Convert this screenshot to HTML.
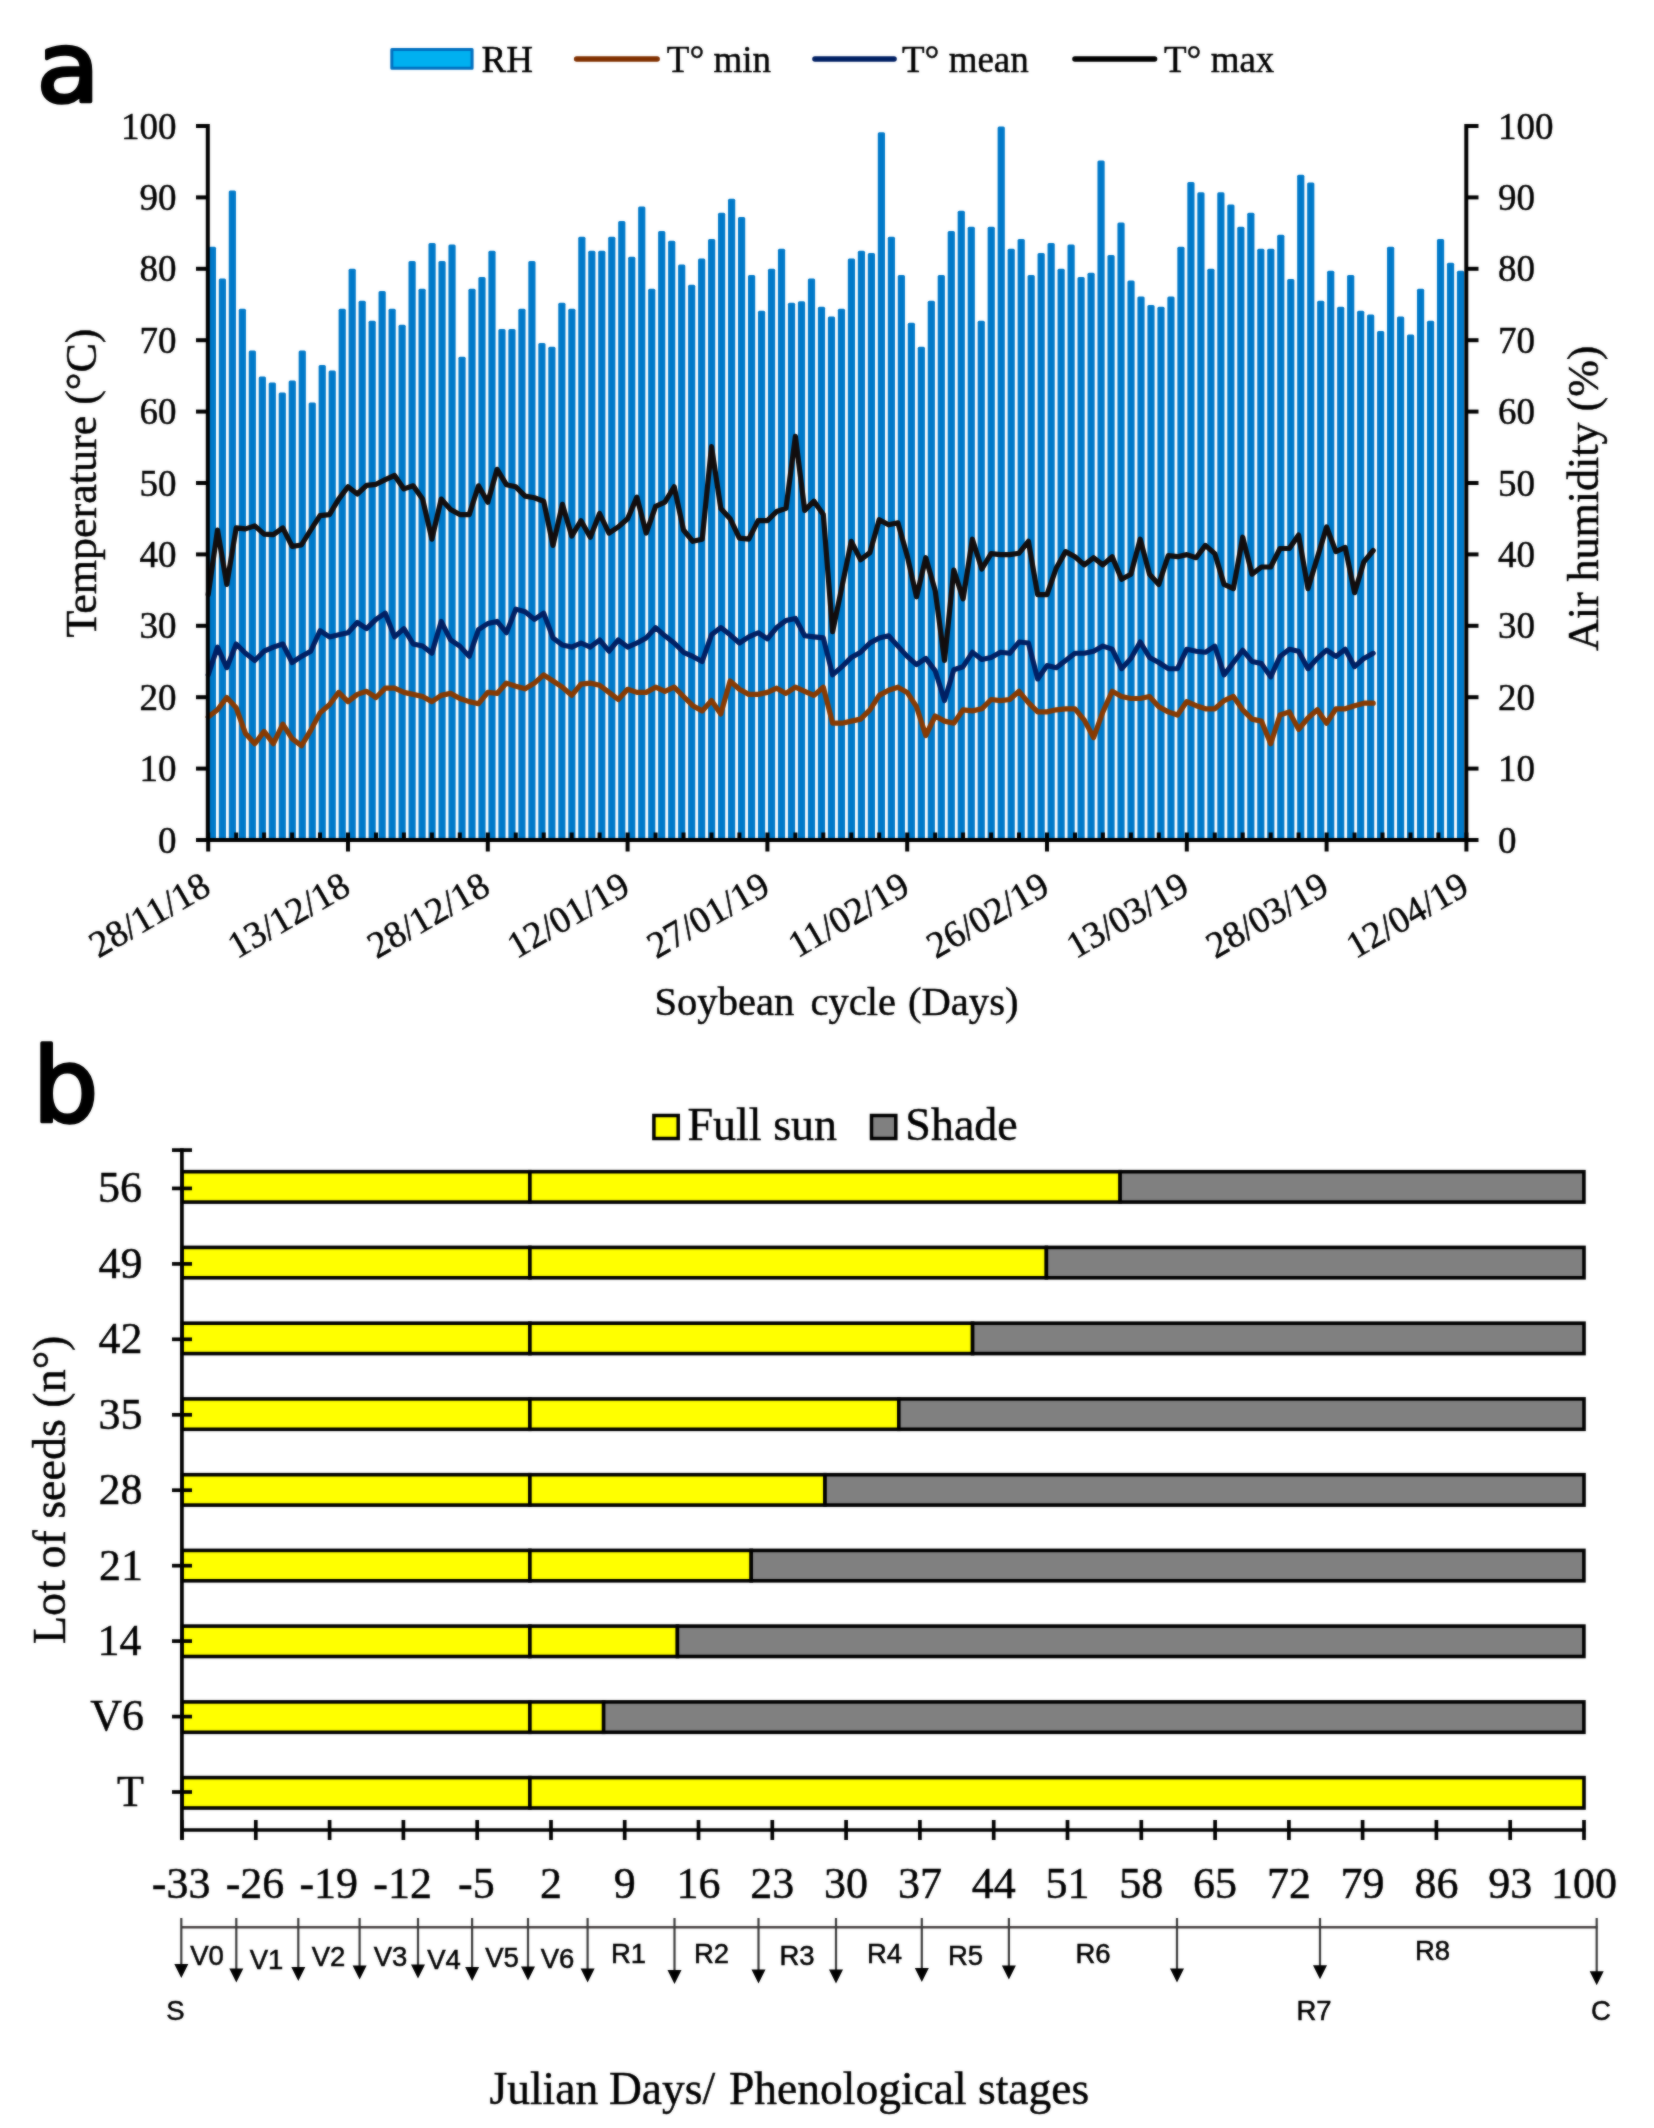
<!DOCTYPE html>
<html lang="en"><head><meta charset="utf-8"><title>Soybean cycle figure</title>
<style>html,body{margin:0;padding:0;background:#fff}svg{display:block}.s{font-family:"Liberation Serif","DejaVu Serif",serif;fill:#000;stroke:#000;stroke-width:.45px}.a{font-family:"Liberation Sans","DejaVu Sans",sans-serif;fill:#000}</style></head><body>
<svg width="1654" height="2128" viewBox="0 0 1654 2128">
<defs><filter id="soft" filterUnits="userSpaceOnUse" x="0" y="0" width="1654" height="2128" color-interpolation-filters="sRGB"><feGaussianBlur stdDeviation="0.8" result="b"/><feComposite in="SourceGraphic" in2="b" operator="arithmetic" k1="0" k2="0.5" k3="0.5" k4="0"/></filter></defs>
<g filter="url(#soft)">
<rect width="1654" height="2128" fill="#fff"/>
<g id="bars" fill="#0079c9">
<rect x="208.80" y="246.7" width="7.2" height="593.3" rx="1.5"/>
<rect x="218.79" y="278.6" width="7.2" height="561.4" rx="1.5"/>
<rect x="228.77" y="190.6" width="7.2" height="649.4" rx="1.5"/>
<rect x="238.75" y="308.8" width="7.2" height="531.2" rx="1.5"/>
<rect x="248.74" y="350.5" width="7.2" height="489.5" rx="1.5"/>
<rect x="258.73" y="376.6" width="7.2" height="463.4" rx="1.5"/>
<rect x="268.71" y="382.6" width="7.2" height="457.4" rx="1.5"/>
<rect x="278.69" y="392.6" width="7.2" height="447.4" rx="1.5"/>
<rect x="288.68" y="380.5" width="7.2" height="459.5" rx="1.5"/>
<rect x="298.67" y="350.5" width="7.2" height="489.5" rx="1.5"/>
<rect x="308.65" y="402.5" width="7.2" height="437.5" rx="1.5"/>
<rect x="318.63" y="364.9" width="7.2" height="475.1" rx="1.5"/>
<rect x="328.62" y="370.6" width="7.2" height="469.4" rx="1.5"/>
<rect x="338.61" y="308.8" width="7.2" height="531.2" rx="1.5"/>
<rect x="348.59" y="268.7" width="7.2" height="571.3" rx="1.5"/>
<rect x="358.57" y="300.8" width="7.2" height="539.2" rx="1.5"/>
<rect x="368.56" y="320.7" width="7.2" height="519.3" rx="1.5"/>
<rect x="378.55" y="290.9" width="7.2" height="549.1" rx="1.5"/>
<rect x="388.53" y="308.8" width="7.2" height="531.2" rx="1.5"/>
<rect x="398.51" y="324.8" width="7.2" height="515.2" rx="1.5"/>
<rect x="408.50" y="261.1" width="7.2" height="578.9" rx="1.5"/>
<rect x="418.49" y="288.8" width="7.2" height="551.2" rx="1.5"/>
<rect x="428.47" y="243.0" width="7.2" height="597.0" rx="1.5"/>
<rect x="438.45" y="261.1" width="7.2" height="578.9" rx="1.5"/>
<rect x="448.44" y="244.6" width="7.2" height="595.4" rx="1.5"/>
<rect x="458.43" y="356.7" width="7.2" height="483.3" rx="1.5"/>
<rect x="468.41" y="288.8" width="7.2" height="551.2" rx="1.5"/>
<rect x="478.39" y="276.9" width="7.2" height="563.1" rx="1.5"/>
<rect x="488.38" y="250.8" width="7.2" height="589.2" rx="1.5"/>
<rect x="498.37" y="328.9" width="7.2" height="511.1" rx="1.5"/>
<rect x="508.35" y="328.9" width="7.2" height="511.1" rx="1.5"/>
<rect x="518.34" y="308.8" width="7.2" height="531.2" rx="1.5"/>
<rect x="528.32" y="261.1" width="7.2" height="578.9" rx="1.5"/>
<rect x="538.31" y="342.9" width="7.2" height="497.1" rx="1.5"/>
<rect x="548.29" y="346.8" width="7.2" height="493.2" rx="1.5"/>
<rect x="558.27" y="302.8" width="7.2" height="537.2" rx="1.5"/>
<rect x="568.26" y="308.8" width="7.2" height="531.2" rx="1.5"/>
<rect x="578.25" y="236.8" width="7.2" height="603.2" rx="1.5"/>
<rect x="588.23" y="250.8" width="7.2" height="589.2" rx="1.5"/>
<rect x="598.21" y="250.8" width="7.2" height="589.2" rx="1.5"/>
<rect x="608.20" y="236.8" width="7.2" height="603.2" rx="1.5"/>
<rect x="618.18" y="221.0" width="7.2" height="619.0" rx="1.5"/>
<rect x="628.17" y="256.8" width="7.2" height="583.2" rx="1.5"/>
<rect x="638.15" y="206.6" width="7.2" height="633.4" rx="1.5"/>
<rect x="648.14" y="288.8" width="7.2" height="551.2" rx="1.5"/>
<rect x="658.12" y="230.9" width="7.2" height="609.1" rx="1.5"/>
<rect x="668.11" y="240.7" width="7.2" height="599.3" rx="1.5"/>
<rect x="678.10" y="264.6" width="7.2" height="575.4" rx="1.5"/>
<rect x="688.08" y="284.7" width="7.2" height="555.3" rx="1.5"/>
<rect x="698.07" y="258.6" width="7.2" height="581.4" rx="1.5"/>
<rect x="708.05" y="238.9" width="7.2" height="601.1" rx="1.5"/>
<rect x="718.03" y="212.8" width="7.2" height="627.2" rx="1.5"/>
<rect x="728.02" y="198.8" width="7.2" height="641.2" rx="1.5"/>
<rect x="738.00" y="216.9" width="7.2" height="623.1" rx="1.5"/>
<rect x="747.99" y="274.9" width="7.2" height="565.1" rx="1.5"/>
<rect x="757.97" y="310.8" width="7.2" height="529.2" rx="1.5"/>
<rect x="767.96" y="268.7" width="7.2" height="571.3" rx="1.5"/>
<rect x="777.94" y="248.7" width="7.2" height="591.3" rx="1.5"/>
<rect x="787.93" y="302.8" width="7.2" height="537.2" rx="1.5"/>
<rect x="797.91" y="301.2" width="7.2" height="538.8" rx="1.5"/>
<rect x="807.90" y="278.6" width="7.2" height="561.4" rx="1.5"/>
<rect x="817.88" y="306.7" width="7.2" height="533.3" rx="1.5"/>
<rect x="827.87" y="316.6" width="7.2" height="523.4" rx="1.5"/>
<rect x="837.86" y="308.8" width="7.2" height="531.2" rx="1.5"/>
<rect x="847.84" y="258.6" width="7.2" height="581.4" rx="1.5"/>
<rect x="857.83" y="250.8" width="7.2" height="589.2" rx="1.5"/>
<rect x="867.81" y="252.9" width="7.2" height="587.1" rx="1.5"/>
<rect x="877.80" y="132.2" width="7.2" height="707.8" rx="1.5"/>
<rect x="887.78" y="236.8" width="7.2" height="603.2" rx="1.5"/>
<rect x="897.76" y="274.9" width="7.2" height="565.1" rx="1.5"/>
<rect x="907.75" y="322.7" width="7.2" height="517.3" rx="1.5"/>
<rect x="917.73" y="346.8" width="7.2" height="493.2" rx="1.5"/>
<rect x="927.72" y="300.8" width="7.2" height="539.2" rx="1.5"/>
<rect x="937.70" y="274.9" width="7.2" height="565.1" rx="1.5"/>
<rect x="947.69" y="230.9" width="7.2" height="609.1" rx="1.5"/>
<rect x="957.67" y="210.7" width="7.2" height="629.3" rx="1.5"/>
<rect x="967.66" y="226.8" width="7.2" height="613.2" rx="1.5"/>
<rect x="977.64" y="320.7" width="7.2" height="519.3" rx="1.5"/>
<rect x="987.63" y="226.8" width="7.2" height="613.2" rx="1.5"/>
<rect x="997.62" y="126.4" width="7.2" height="713.6" rx="1.5"/>
<rect x="1007.60" y="248.7" width="7.2" height="591.3" rx="1.5"/>
<rect x="1017.59" y="238.9" width="7.2" height="601.1" rx="1.5"/>
<rect x="1027.57" y="274.9" width="7.2" height="565.1" rx="1.5"/>
<rect x="1037.56" y="252.9" width="7.2" height="587.1" rx="1.5"/>
<rect x="1047.54" y="243.0" width="7.2" height="597.0" rx="1.5"/>
<rect x="1057.52" y="268.7" width="7.2" height="571.3" rx="1.5"/>
<rect x="1067.51" y="244.6" width="7.2" height="595.4" rx="1.5"/>
<rect x="1077.49" y="276.9" width="7.2" height="563.1" rx="1.5"/>
<rect x="1087.48" y="272.8" width="7.2" height="567.2" rx="1.5"/>
<rect x="1097.46" y="160.4" width="7.2" height="679.6" rx="1.5"/>
<rect x="1107.45" y="254.9" width="7.2" height="585.1" rx="1.5"/>
<rect x="1117.43" y="222.6" width="7.2" height="617.4" rx="1.5"/>
<rect x="1127.42" y="280.6" width="7.2" height="559.4" rx="1.5"/>
<rect x="1137.40" y="296.6" width="7.2" height="543.4" rx="1.5"/>
<rect x="1147.39" y="304.9" width="7.2" height="535.1" rx="1.5"/>
<rect x="1157.38" y="306.7" width="7.2" height="533.3" rx="1.5"/>
<rect x="1167.36" y="296.6" width="7.2" height="543.4" rx="1.5"/>
<rect x="1177.35" y="246.7" width="7.2" height="593.3" rx="1.5"/>
<rect x="1187.33" y="181.9" width="7.2" height="658.1" rx="1.5"/>
<rect x="1197.32" y="192.2" width="7.2" height="647.8" rx="1.5"/>
<rect x="1207.30" y="268.7" width="7.2" height="571.3" rx="1.5"/>
<rect x="1217.28" y="192.2" width="7.2" height="647.8" rx="1.5"/>
<rect x="1227.27" y="204.6" width="7.2" height="635.4" rx="1.5"/>
<rect x="1237.25" y="226.8" width="7.2" height="613.2" rx="1.5"/>
<rect x="1247.24" y="212.8" width="7.2" height="627.2" rx="1.5"/>
<rect x="1257.22" y="248.7" width="7.2" height="591.3" rx="1.5"/>
<rect x="1267.21" y="248.7" width="7.2" height="591.3" rx="1.5"/>
<rect x="1277.19" y="234.8" width="7.2" height="605.2" rx="1.5"/>
<rect x="1287.18" y="279.0" width="7.2" height="561.0" rx="1.5"/>
<rect x="1297.16" y="174.7" width="7.2" height="665.3" rx="1.5"/>
<rect x="1307.15" y="182.4" width="7.2" height="657.6" rx="1.5"/>
<rect x="1317.13" y="300.8" width="7.2" height="539.2" rx="1.5"/>
<rect x="1327.12" y="270.7" width="7.2" height="569.3" rx="1.5"/>
<rect x="1337.10" y="306.7" width="7.2" height="533.3" rx="1.5"/>
<rect x="1347.09" y="274.9" width="7.2" height="565.1" rx="1.5"/>
<rect x="1357.07" y="310.8" width="7.2" height="529.2" rx="1.5"/>
<rect x="1367.06" y="314.5" width="7.2" height="525.5" rx="1.5"/>
<rect x="1377.04" y="331.0" width="7.2" height="509.0" rx="1.5"/>
<rect x="1387.03" y="246.7" width="7.2" height="593.3" rx="1.5"/>
<rect x="1397.01" y="316.6" width="7.2" height="523.4" rx="1.5"/>
<rect x="1407.00" y="334.5" width="7.2" height="505.5" rx="1.5"/>
<rect x="1416.98" y="288.8" width="7.2" height="551.2" rx="1.5"/>
<rect x="1426.97" y="320.7" width="7.2" height="519.3" rx="1.5"/>
<rect x="1436.95" y="238.9" width="7.2" height="601.1" rx="1.5"/>
<rect x="1446.94" y="262.7" width="7.2" height="577.3" rx="1.5"/>
<rect x="1456.92" y="270.7" width="7.2" height="569.3" rx="1.5"/>
</g>
<g fill="none" stroke-linejoin="round" stroke-linecap="round">
<polyline stroke="#873a02" stroke-width="5.2" points="208.2,717.0 217.5,709.8 226.8,697.5 236.2,707.8 245.5,733.5 254.8,743.7 264.1,731.4 273.4,743.7 282.8,724.2 292.1,738.6 301.4,745.8 310.7,730.4 320.0,712.9 329.4,704.7 338.7,692.4 348.0,701.6 357.3,694.4 366.6,691.3 376.0,697.5 385.3,688.2 394.6,688.2 403.9,692.4 413.2,694.4 422.6,696.5 431.9,701.6 441.2,695.4 450.5,693.4 459.8,698.5 469.2,701.6 478.5,703.7 487.8,692.4 497.1,693.4 506.4,683.1 515.8,686.2 525.1,688.8 534.4,683.1 543.7,674.9 553.0,681.0 562.4,687.2 571.7,695.4 581.0,684.1 590.3,683.1 599.6,685.2 609.0,692.4 618.3,699.5 627.6,689.3 636.9,692.4 646.2,692.4 655.6,687.2 664.9,691.3 674.2,687.2 683.5,696.5 692.8,705.7 702.2,710.9 711.5,700.6 720.8,713.9 730.1,681.0 739.4,689.3 748.8,694.4 758.1,694.4 767.4,692.4 776.7,688.2 786.0,693.4 795.4,687.2 804.7,691.3 814.0,695.4 823.3,687.2 832.6,723.2 842.0,723.2 851.3,721.1 860.6,719.1 869.9,709.8 879.2,695.4 888.6,690.3 897.9,687.2 907.2,692.4 916.5,706.7 925.8,735.5 935.2,716.0 944.5,721.1 953.8,723.2 963.1,709.8 972.4,710.9 981.8,708.8 991.1,699.5 1000.4,700.6 1009.7,699.5 1019.0,691.3 1028.4,702.6 1037.7,711.9 1047.0,711.9 1056.3,709.8 1065.6,708.8 1075.0,708.8 1084.3,720.1 1093.6,737.6 1102.9,711.9 1112.2,691.3 1121.6,696.5 1130.9,698.5 1140.2,698.5 1149.5,696.5 1158.8,706.7 1168.2,711.9 1177.5,715.0 1186.8,701.6 1196.1,705.7 1205.4,708.8 1214.8,708.8 1224.1,700.6 1233.4,696.5 1242.7,709.8 1252.0,719.1 1261.4,721.1 1270.7,743.7 1280.0,715.0 1289.3,711.9 1298.6,729.4 1308.0,718.0 1317.3,709.8 1326.6,723.2 1335.9,708.8 1345.2,708.8 1354.6,705.7 1363.9,703.2 1373.2,703.2"/>
<polyline stroke="#001f63" stroke-width="5.1" points="208.2,674.9 217.5,647.1 226.8,667.7 236.2,644.0 245.5,653.3 254.8,660.5 264.1,651.2 273.4,647.1 282.8,644.0 292.1,662.5 301.4,656.4 310.7,651.2 320.0,630.7 329.4,636.9 338.7,634.8 348.0,632.7 357.3,622.5 366.6,628.6 376.0,619.4 385.3,613.2 394.6,636.9 403.9,628.6 413.2,644.0 422.6,646.1 431.9,653.3 441.2,621.4 450.5,639.9 459.8,646.1 469.2,656.4 478.5,629.7 487.8,623.5 497.1,621.4 506.4,632.7 515.8,609.1 525.1,611.7 534.4,619.4 543.7,613.2 553.0,637.9 562.4,645.1 571.7,647.1 581.0,643.0 590.3,647.1 599.6,639.9 609.0,651.2 618.3,639.9 627.6,647.1 636.9,643.0 646.2,637.9 655.6,627.6 664.9,635.8 674.2,643.0 683.5,652.3 692.8,656.4 702.2,661.5 711.5,634.8 720.8,627.6 730.1,634.8 739.4,643.0 748.8,636.9 758.1,632.7 767.4,638.9 776.7,627.6 786.0,620.4 795.4,618.4 804.7,635.8 814.0,636.9 823.3,637.9 832.6,674.9 842.0,666.7 851.3,657.4 860.6,652.3 869.9,643.0 879.2,637.9 888.6,635.8 897.9,646.1 907.2,656.4 916.5,664.6 925.8,658.4 935.2,670.8 944.5,700.6 953.8,669.7 963.1,666.7 972.4,652.3 981.8,659.5 991.1,657.4 1000.4,652.3 1009.7,653.3 1019.0,642.0 1028.4,643.0 1037.7,679.0 1047.0,665.6 1056.3,667.7 1065.6,660.5 1075.0,653.3 1084.3,653.3 1093.6,651.2 1102.9,646.1 1112.2,649.2 1121.6,668.7 1130.9,658.4 1140.2,642.0 1149.5,657.4 1158.8,662.5 1168.2,668.7 1177.5,668.7 1186.8,649.2 1196.1,651.2 1205.4,652.3 1214.8,646.1 1224.1,674.9 1233.4,662.5 1242.7,650.2 1252.0,661.5 1261.4,663.6 1270.7,676.9 1280.0,656.4 1289.3,649.2 1298.6,651.2 1308.0,668.7 1317.3,658.4 1326.6,650.2 1335.9,656.4 1345.2,649.2 1354.6,666.7 1363.9,658.4 1373.2,653.3"/>
<polyline stroke="#120d0d" stroke-width="5.2" points="208.2,594.7 217.5,530.0 226.8,584.4 236.2,527.9 245.5,528.9 254.8,525.9 264.1,534.1 273.4,534.7 282.8,527.9 292.1,546.4 301.4,545.0 310.7,530.0 320.0,515.6 329.4,514.6 338.7,499.1 348.0,486.8 357.3,494.0 366.6,485.4 376.0,484.3 385.3,479.6 394.6,475.5 403.9,488.9 413.2,485.8 422.6,499.1 431.9,539.2 441.2,499.1 450.5,509.4 459.8,514.6 469.2,514.6 478.5,485.8 487.8,502.2 497.1,469.3 506.4,484.7 515.8,486.8 525.1,496.1 534.4,497.7 543.7,501.2 553.0,545.4 562.4,504.3 571.7,536.1 581.0,520.7 590.3,537.2 599.6,513.5 609.0,533.1 618.3,526.9 627.6,518.7 636.9,497.1 646.2,533.1 655.6,506.3 664.9,502.2 674.2,486.8 683.5,530.0 692.8,541.3 702.2,539.2 711.5,446.7 720.8,508.4 730.1,518.7 739.4,538.2 748.8,539.2 758.1,520.7 767.4,520.7 776.7,511.5 786.0,508.4 795.4,436.4 804.7,510.4 814.0,501.2 823.3,514.6 832.6,631.7 842.0,586.5 851.3,541.3 860.6,559.8 869.9,552.6 879.2,519.7 888.6,524.8 897.9,522.8 907.2,555.7 916.5,596.8 925.8,557.7 935.2,590.6 944.5,660.5 953.8,570.1 963.1,598.8 972.4,539.2 981.8,569.0 991.1,553.6 1000.4,554.6 1009.7,554.6 1019.0,553.2 1028.4,541.3 1037.7,594.7 1047.0,594.7 1056.3,568.0 1065.6,551.6 1075.0,556.7 1084.3,564.9 1093.6,557.7 1102.9,564.9 1112.2,556.7 1121.6,579.3 1130.9,574.2 1140.2,539.2 1149.5,574.2 1158.8,584.4 1168.2,555.7 1177.5,556.7 1186.8,554.6 1196.1,557.7 1205.4,545.4 1214.8,553.6 1224.1,584.4 1233.4,588.6 1242.7,537.2 1252.0,574.2 1261.4,567.0 1270.7,567.0 1280.0,548.5 1289.3,548.5 1298.6,535.1 1308.0,588.6 1317.3,557.7 1326.6,526.9 1335.9,551.6 1345.2,547.4 1354.6,592.7 1363.9,561.8 1373.2,550.5"/>
</g>
<g stroke="#000" stroke-width="4" fill="none">
<path d="M207.8 124.1V840"/>
<path d="M1466.3 124.1V840"/>
<path d="M196 840H1468"/>
<path d="M1466 840.0H1478.5"/>
<path d="M196 768.6H208"/>
<path d="M1466 768.6H1478.5"/>
<path d="M196 697.2H208"/>
<path d="M1466 697.2H1478.5"/>
<path d="M196 625.8H208"/>
<path d="M1466 625.8H1478.5"/>
<path d="M196 554.4H208"/>
<path d="M1466 554.4H1478.5"/>
<path d="M196 483.0H208"/>
<path d="M1466 483.0H1478.5"/>
<path d="M196 411.6H208"/>
<path d="M1466 411.6H1478.5"/>
<path d="M196 340.2H208"/>
<path d="M1466 340.2H1478.5"/>
<path d="M196 268.8H208"/>
<path d="M1466 268.8H1478.5"/>
<path d="M196 197.4H208"/>
<path d="M1466 197.4H1478.5"/>
<path d="M196 126.0H208"/>
<path d="M1466 126.0H1478.5"/>
<path d="M208.2 832.5V851.5"/>
<path d="M236.2 832.5V840"/>
<path d="M264.1 832.5V840"/>
<path d="M292.1 832.5V840"/>
<path d="M320.0 832.5V840"/>
<path d="M348.0 832.5V851.5"/>
<path d="M376.0 832.5V840"/>
<path d="M403.9 832.5V840"/>
<path d="M431.9 832.5V840"/>
<path d="M459.8 832.5V840"/>
<path d="M487.8 832.5V851.5"/>
<path d="M515.8 832.5V840"/>
<path d="M543.7 832.5V840"/>
<path d="M571.7 832.5V840"/>
<path d="M599.6 832.5V840"/>
<path d="M627.6 832.5V851.5"/>
<path d="M655.6 832.5V840"/>
<path d="M683.5 832.5V840"/>
<path d="M711.5 832.5V840"/>
<path d="M739.4 832.5V840"/>
<path d="M767.4 832.5V851.5"/>
<path d="M795.4 832.5V840"/>
<path d="M823.3 832.5V840"/>
<path d="M851.3 832.5V840"/>
<path d="M879.2 832.5V840"/>
<path d="M907.2 832.5V851.5"/>
<path d="M935.2 832.5V840"/>
<path d="M963.1 832.5V840"/>
<path d="M991.1 832.5V840"/>
<path d="M1019.0 832.5V840"/>
<path d="M1047.0 832.5V851.5"/>
<path d="M1075.0 832.5V840"/>
<path d="M1102.9 832.5V840"/>
<path d="M1130.9 832.5V840"/>
<path d="M1158.8 832.5V840"/>
<path d="M1186.8 832.5V851.5"/>
<path d="M1214.8 832.5V840"/>
<path d="M1242.7 832.5V840"/>
<path d="M1270.7 832.5V840"/>
<path d="M1298.6 832.5V840"/>
<path d="M1326.6 832.5V851.5"/>
<path d="M1354.6 832.5V840"/>
<path d="M1382.5 832.5V840"/>
<path d="M1410.5 832.5V840"/>
<path d="M1438.4 832.5V840"/>
<path d="M1466.4 832.5V851.5"/>
</g>
<g class="s" font-size="37">
<text x="176.5" y="852.5" text-anchor="end">0</text>
<text x="1498" y="852.5">0</text>
<text x="176.5" y="781.1" text-anchor="end">10</text>
<text x="1498" y="781.1">10</text>
<text x="176.5" y="709.7" text-anchor="end">20</text>
<text x="1498" y="709.7">20</text>
<text x="176.5" y="638.3" text-anchor="end">30</text>
<text x="1498" y="638.3">30</text>
<text x="176.5" y="566.9" text-anchor="end">40</text>
<text x="1498" y="566.9">40</text>
<text x="176.5" y="495.5" text-anchor="end">50</text>
<text x="1498" y="495.5">50</text>
<text x="176.5" y="424.1" text-anchor="end">60</text>
<text x="1498" y="424.1">60</text>
<text x="176.5" y="352.7" text-anchor="end">70</text>
<text x="1498" y="352.7">70</text>
<text x="176.5" y="281.3" text-anchor="end">80</text>
<text x="1498" y="281.3">80</text>
<text x="176.5" y="209.9" text-anchor="end">90</text>
<text x="1498" y="209.9">90</text>
<text x="176.5" y="138.5" text-anchor="end">100</text>
<text x="1498" y="138.5">100</text>
<text transform="translate(212.7 892.5) rotate(-30)" text-anchor="end" font-size="37.5">28/11/18</text>
<text transform="translate(352.5 892.5) rotate(-30)" text-anchor="end" font-size="37.5">13/12/18</text>
<text transform="translate(492.3 892.5) rotate(-30)" text-anchor="end" font-size="37.5">28/12/18</text>
<text transform="translate(632.1 892.5) rotate(-30)" text-anchor="end" font-size="37.5">12/01/19</text>
<text transform="translate(771.9 892.5) rotate(-30)" text-anchor="end" font-size="37.5">27/01/19</text>
<text transform="translate(911.7 892.5) rotate(-30)" text-anchor="end" font-size="37.5">11/02/19</text>
<text transform="translate(1051.5 892.5) rotate(-30)" text-anchor="end" font-size="37.5">26/02/19</text>
<text transform="translate(1191.3 892.5) rotate(-30)" text-anchor="end" font-size="37.5">13/03/19</text>
<text transform="translate(1331.1 892.5) rotate(-30)" text-anchor="end" font-size="37.5">28/03/19</text>
<text transform="translate(1470.9 892.5) rotate(-30)" text-anchor="end" font-size="37.5">12/04/19</text>
</g>
<rect x="391.8" y="49.5" width="80.3" height="18.7" fill="#00b0f0" stroke="#0070c0" stroke-width="3" stroke-linejoin="round"/>
<g stroke-linecap="round" stroke-width="5.6" fill="none">
<path stroke="#803000" d="M576.7 59H657.1"/>
<path stroke="#001f63" d="M815 59H894"/>
<path stroke="#000" d="M1075 59H1154.5"/>
</g>
<g class="s" font-size="37">
<text x="481.5" y="72">RH</text>
<text x="666.8" y="72">T° min</text>
<text x="902" y="72">T° mean</text>
<text x="1164" y="72">T° max</text>
</g>
<g class="s" font-size="44">
<text transform="translate(96.2 483) rotate(-90)" text-anchor="middle">Temperature (°C)</text>
<text transform="translate(1598 498.3) rotate(-90)" text-anchor="middle">Air humidity (%)</text>
<text y="1015" font-size="40.6"><tspan x="654.5">Soybean</tspan><tspan x="800.4"> cycle</tspan><tspan x="897.9"> (Days)</tspan></text>
</g>
<g font-family='"DejaVu Sans","Liberation Sans",sans-serif' fill="#000" stroke="#000" stroke-linejoin="round">
<text transform="translate(36.5 101.8) scale(1.055 1)" font-size="98" stroke-width="3.5">a</text>
<text x="32.5" y="1121.5" font-size="104" stroke-width="3.3">b</text>
</g>
<g stroke="#000" stroke-width="3.6">
<rect x="182.0" y="1171.7" width="347.9" height="30.4" fill="#ff0"/>
<rect x="529.9" y="1171.7" width="590.3" height="30.4" fill="#ff0"/>
<rect x="1120.1" y="1171.7" width="463.8" height="30.4" fill="#808080"/>
<rect x="182.0" y="1247.4" width="347.9" height="30.4" fill="#ff0"/>
<rect x="529.9" y="1247.4" width="516.5" height="30.4" fill="#ff0"/>
<rect x="1046.4" y="1247.4" width="537.6" height="30.4" fill="#808080"/>
<rect x="182.0" y="1323.2" width="347.9" height="30.4" fill="#ff0"/>
<rect x="529.9" y="1323.2" width="442.7" height="30.4" fill="#ff0"/>
<rect x="972.6" y="1323.2" width="611.4" height="30.4" fill="#808080"/>
<rect x="182.0" y="1398.9" width="347.9" height="30.4" fill="#ff0"/>
<rect x="529.9" y="1398.9" width="368.9" height="30.4" fill="#ff0"/>
<rect x="898.8" y="1398.9" width="685.2" height="30.4" fill="#808080"/>
<rect x="182.0" y="1474.7" width="347.9" height="30.4" fill="#ff0"/>
<rect x="529.9" y="1474.7" width="295.1" height="30.4" fill="#ff0"/>
<rect x="825.0" y="1474.7" width="759.0" height="30.4" fill="#808080"/>
<rect x="182.0" y="1550.4" width="347.9" height="30.4" fill="#ff0"/>
<rect x="529.9" y="1550.4" width="221.4" height="30.4" fill="#ff0"/>
<rect x="751.2" y="1550.4" width="832.7" height="30.4" fill="#808080"/>
<rect x="182.0" y="1626.1" width="347.9" height="30.4" fill="#ff0"/>
<rect x="529.9" y="1626.1" width="147.6" height="30.4" fill="#ff0"/>
<rect x="677.4" y="1626.1" width="906.5" height="30.4" fill="#808080"/>
<rect x="182.0" y="1701.9" width="347.9" height="30.4" fill="#ff0"/>
<rect x="529.9" y="1701.9" width="73.8" height="30.4" fill="#ff0"/>
<rect x="603.6" y="1701.9" width="980.3" height="30.4" fill="#808080"/>
<rect x="182.0" y="1777.6" width="347.9" height="30.4" fill="#ff0"/>
<rect x="529.9" y="1777.6" width="1054.1" height="30.4" fill="#ff0"/>
</g>
<g stroke="#000" stroke-width="3.7" fill="none">
<path d="M181.9 1148.3V1840"/>
<path d="M180.5 1830H1585.5"/>
<path d="M172 1150.1H192"/>
<path d="M172 1188.4H192"/>
<path d="M172 1263.9H192"/>
<path d="M172 1339.3H192"/>
<path d="M172 1414.8H192"/>
<path d="M172 1490.2H192"/>
<path d="M172 1565.7H192"/>
<path d="M172 1641.1H192"/>
<path d="M172 1716.6H192"/>
<path d="M172 1792.0H192"/>
<path d="M182.0 1820V1840"/>
<path d="M255.8 1820V1840"/>
<path d="M329.6 1820V1840"/>
<path d="M403.4 1820V1840"/>
<path d="M477.2 1820V1840"/>
<path d="M551.0 1820V1840"/>
<path d="M624.7 1820V1840"/>
<path d="M698.5 1820V1840"/>
<path d="M772.3 1820V1840"/>
<path d="M846.1 1820V1840"/>
<path d="M919.9 1820V1840"/>
<path d="M993.7 1820V1840"/>
<path d="M1067.5 1820V1840"/>
<path d="M1141.3 1820V1840"/>
<path d="M1215.1 1820V1840"/>
<path d="M1288.9 1820V1840"/>
<path d="M1362.6 1820V1840"/>
<path d="M1436.4 1820V1840"/>
<path d="M1510.2 1820V1840"/>
<path d="M1584.0 1820V1840"/>
</g>
<g class="s" font-size="44">
<text x="142.0" y="1202.2" text-anchor="end">56</text>
<text x="142.5" y="1277.7" text-anchor="end">49</text>
<text x="142.5" y="1353.1" text-anchor="end">42</text>
<text x="142.5" y="1428.5" text-anchor="end">35</text>
<text x="142.5" y="1504.0" text-anchor="end">28</text>
<text x="143.0" y="1579.5" text-anchor="end">21</text>
<text x="141.5" y="1654.9" text-anchor="end">14</text>
<text x="144.0" y="1730.4" text-anchor="end">V6</text>
<text x="143.8" y="1805.8" text-anchor="end">T</text>
<text x="181.2" y="1898" text-anchor="middle">-33</text>
<text x="255.0" y="1898" text-anchor="middle">-26</text>
<text x="328.8" y="1898" text-anchor="middle">-19</text>
<text x="402.6" y="1898" text-anchor="middle">-12</text>
<text x="476.4" y="1898" text-anchor="middle">-5</text>
<text x="551.0" y="1898" text-anchor="middle">2</text>
<text x="624.7" y="1898" text-anchor="middle">9</text>
<text x="698.5" y="1898" text-anchor="middle">16</text>
<text x="772.3" y="1898" text-anchor="middle">23</text>
<text x="846.1" y="1898" text-anchor="middle">30</text>
<text x="919.9" y="1898" text-anchor="middle">37</text>
<text x="993.7" y="1898" text-anchor="middle">44</text>
<text x="1067.5" y="1898" text-anchor="middle">51</text>
<text x="1141.3" y="1898" text-anchor="middle">58</text>
<text x="1215.1" y="1898" text-anchor="middle">65</text>
<text x="1288.9" y="1898" text-anchor="middle">72</text>
<text x="1362.6" y="1898" text-anchor="middle">79</text>
<text x="1436.4" y="1898" text-anchor="middle">86</text>
<text x="1510.2" y="1898" text-anchor="middle">93</text>
<text x="1584.0" y="1898" text-anchor="middle">100</text>
</g>
<rect x="653.9" y="1115.5" width="24.3" height="23" fill="#ff0" stroke="#000" stroke-width="3.5"/>
<rect x="871.5" y="1115.5" width="24.3" height="23" fill="#808080" stroke="#000" stroke-width="3.5"/>
<g class="s" font-size="46">
<text x="687.5" y="1139.8">Full sun</text>
<text x="905.3" y="1139.8">Shade</text>
<text transform="translate(64.6 1489.8) rotate(-90)" text-anchor="middle">Lot of seeds (n°)</text>
<text y="2104" font-size="45.5"><tspan x="489.5">Julian</tspan><tspan x="609">Days/</tspan><tspan x="729">Phenological</tspan><tspan x="978">stages</tspan></text>
</g>
<path d="M182 1927.2H1597.5" stroke="#4a4444" stroke-width="2.4" fill="none"/>
<path d="M181.3 1918V1970.0" stroke="#3a3a3a" stroke-width="2.2" fill="none"/>
<path d="M174.3 1964.0L188.3 1964.0L181.3 1978.0Z" fill="#000"/>
<path d="M236.3 1918V1974.6" stroke="#3a3a3a" stroke-width="2.2" fill="none"/>
<path d="M229.3 1968.6L243.3 1968.6L236.3 1982.6Z" fill="#000"/>
<path d="M298.3 1918V1973.0" stroke="#3a3a3a" stroke-width="2.2" fill="none"/>
<path d="M291.3 1967.0L305.3 1967.0L298.3 1981.0Z" fill="#000"/>
<path d="M359.6 1918V1971.5" stroke="#3a3a3a" stroke-width="2.2" fill="none"/>
<path d="M352.6 1965.5L366.6 1965.5L359.6 1979.5Z" fill="#000"/>
<path d="M418.0 1918V1970.5" stroke="#3a3a3a" stroke-width="2.2" fill="none"/>
<path d="M411.0 1964.5L425.0 1964.5L418.0 1978.5Z" fill="#000"/>
<path d="M472.1 1918V1973.0" stroke="#3a3a3a" stroke-width="2.2" fill="none"/>
<path d="M465.1 1967.0L479.1 1967.0L472.1 1981.0Z" fill="#000"/>
<path d="M528.0 1918V1972.5" stroke="#3a3a3a" stroke-width="2.2" fill="none"/>
<path d="M521.0 1966.5L535.0 1966.5L528.0 1980.5Z" fill="#000"/>
<path d="M587.6 1918V1974.5" stroke="#3a3a3a" stroke-width="2.2" fill="none"/>
<path d="M580.6 1968.5L594.6 1968.5L587.6 1982.5Z" fill="#000"/>
<path d="M674.5 1918V1976.0" stroke="#3a3a3a" stroke-width="2.2" fill="none"/>
<path d="M667.5 1970.0L681.5 1970.0L674.5 1984.0Z" fill="#000"/>
<path d="M758.5 1918V1975.6" stroke="#3a3a3a" stroke-width="2.2" fill="none"/>
<path d="M751.5 1969.6L765.5 1969.6L758.5 1983.6Z" fill="#000"/>
<path d="M836.0 1918V1975.6" stroke="#3a3a3a" stroke-width="2.2" fill="none"/>
<path d="M829.0 1969.6L843.0 1969.6L836.0 1983.6Z" fill="#000"/>
<path d="M921.8 1918V1974.0" stroke="#3a3a3a" stroke-width="2.2" fill="none"/>
<path d="M914.8 1968.0L928.8 1968.0L921.8 1982.0Z" fill="#000"/>
<path d="M1008.9 1918V1971.6" stroke="#3a3a3a" stroke-width="2.2" fill="none"/>
<path d="M1001.9 1965.6L1015.9 1965.6L1008.9 1979.6Z" fill="#000"/>
<path d="M1177.0 1918V1974.5" stroke="#3a3a3a" stroke-width="2.2" fill="none"/>
<path d="M1170.0 1968.5L1184.0 1968.5L1177.0 1982.5Z" fill="#000"/>
<path d="M1320.0 1918V1971.2" stroke="#3a3a3a" stroke-width="2.2" fill="none"/>
<path d="M1313.0 1965.2L1327.0 1965.2L1320.0 1979.2Z" fill="#000"/>
<path d="M1596.7 1918V1977.2" stroke="#3a3a3a" stroke-width="2.2" fill="none"/>
<path d="M1589.7 1971.2L1603.7 1971.2L1596.7 1985.2Z" fill="#000"/>
<g class="a" font-size="27.5" text-anchor="middle" stroke="#000" stroke-width="0.5">
<text x="207.0" y="1964.5">V0</text>
<text x="266.5" y="1969.0">V1</text>
<text x="328.5" y="1966.0">V2</text>
<text x="390.5" y="1965.5">V3</text>
<text x="444.0" y="1969.0">V4</text>
<text x="502.0" y="1967.0">V5</text>
<text x="557.5" y="1968.0">V6</text>
<text x="628.5" y="1963.0">R1</text>
<text x="711.5" y="1963.0">R2</text>
<text x="797.0" y="1965.0">R3</text>
<text x="884.5" y="1963.0">R4</text>
<text x="965.5" y="1965.0">R5</text>
<text x="1093.0" y="1963.0">R6</text>
<text x="1432.5" y="1960.0">R8</text>
<text x="175.3" y="2020.4">S</text>
<text x="1314.0" y="2020.4">R7</text>
<text x="1601.0" y="2019.6">C</text>
</g>
</g>
</svg></body></html>
